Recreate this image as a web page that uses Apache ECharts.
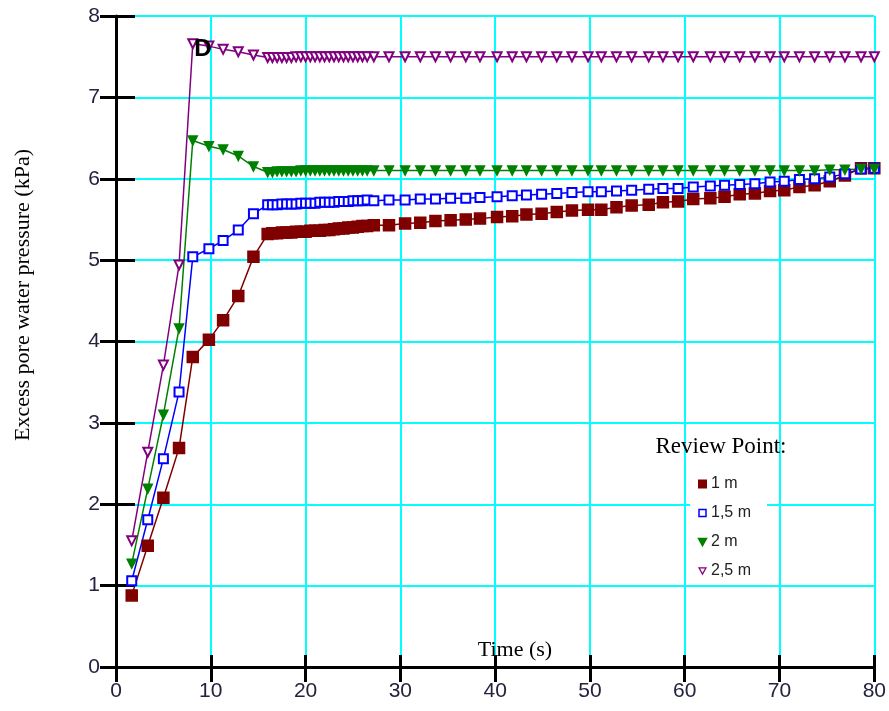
<!DOCTYPE html>
<html>
<head>
<meta charset="utf-8">
<script src="https://cdn.jsdelivr.net/npm/echarts@6/dist/echarts.min.js"></script>
<style>
  html, body { margin: 0; padding: 0; background: #fff; }
  #chart { width: 889px; height: 711px; }
</style>
</head>
<body>
<div id="chart"></div>
<script>
// time (s), shared by all review points
var times = [1.66, 3.35, 5.0, 6.65, 8.1, 9.8, 11.3, 12.9, 14.5, 16.0,
  16.5, 17.0, 17.5, 18.0, 18.5, 19.0, 19.5, 20.0, 20.5, 21.0, 21.5, 22.0, 22.5, 23.0, 23.5, 24.0, 24.5, 25.0, 25.5, 26.0, 26.5,
  27.2, 28.8, 30.5, 32.1, 33.7, 35.3, 36.9, 38.4, 40.2, 41.8, 43.3, 44.9, 46.5, 48.1, 49.8,
  51.2, 52.8, 54.4, 56.2, 57.7, 59.3, 60.9, 62.7, 64.2, 65.8, 67.4, 69.0, 70.5, 72.1, 73.7, 75.3, 76.9, 78.6, 80.0]

// excess pore water pressure (kPa)
var p1m = [0.88, 1.49, 2.08, 2.69, 3.81, 4.02, 4.26, 4.56, 5.04, 5.32,
  5.33, 5.33, 5.34, 5.34, 5.34, 5.35, 5.35, 5.35, 5.36, 5.36, 5.36, 5.37, 5.37, 5.38, 5.39, 5.39, 5.40, 5.40, 5.41, 5.42, 5.42,
  5.43, 5.43, 5.45, 5.46, 5.48, 5.49, 5.50, 5.51, 5.53, 5.54, 5.56, 5.57, 5.59, 5.61, 5.62,
  5.62, 5.65, 5.67, 5.68, 5.71, 5.72, 5.75, 5.76, 5.78, 5.81, 5.82, 5.85, 5.86, 5.90, 5.92, 5.97, 6.04, 6.13, 6.13]
var p15m = [1.06, 1.81, 2.56, 3.38, 5.04, 5.14, 5.24, 5.37, 5.57, 5.68,
  5.68, 5.68, 5.69, 5.69, 5.69, 5.69, 5.70, 5.70, 5.70, 5.70, 5.71, 5.71, 5.71, 5.71, 5.72, 5.72, 5.72, 5.73, 5.73, 5.73, 5.74,
  5.73, 5.74, 5.74, 5.75, 5.75, 5.76, 5.76, 5.77, 5.78, 5.79, 5.80, 5.81, 5.82, 5.83, 5.84,
  5.84, 5.85, 5.86, 5.87, 5.88, 5.88, 5.90, 5.91, 5.92, 5.93, 5.94, 5.96, 5.97, 5.99, 6.00, 6.02, 6.06, 6.12, 6.13]
var p2m = [1.27, 2.19, 3.10, 4.16, 6.47, 6.40, 6.36, 6.28, 6.15, 6.08,
  6.08, 6.09, 6.09, 6.09, 6.09, 6.09, 6.10, 6.10, 6.10, 6.10, 6.10, 6.10, 6.10, 6.10, 6.10, 6.10, 6.10, 6.10, 6.10, 6.10, 6.10,
  6.10, 6.10, 6.10, 6.10, 6.10, 6.10, 6.10, 6.10, 6.10, 6.10, 6.10, 6.10, 6.10, 6.10, 6.10,
  6.10, 6.10, 6.10, 6.10, 6.10, 6.10, 6.10, 6.10, 6.10, 6.10, 6.10, 6.10, 6.10, 6.10, 6.10, 6.11, 6.11, 6.12, 6.12]
var p25m = [1.55, 2.64, 3.71, 4.94, 7.66, 7.63, 7.59, 7.56, 7.52, 7.49,
  7.49, 7.49, 7.49, 7.49, 7.49, 7.50, 7.50, 7.50, 7.50, 7.50, 7.50, 7.50, 7.50, 7.50, 7.50, 7.50, 7.50, 7.50, 7.50, 7.50, 7.50,
  7.50, 7.50, 7.50, 7.50, 7.50, 7.50, 7.50, 7.50, 7.50, 7.50, 7.50, 7.50, 7.50, 7.50, 7.50,
  7.50, 7.50, 7.50, 7.50, 7.50, 7.50, 7.50, 7.50, 7.50, 7.50, 7.50, 7.50, 7.50, 7.50, 7.50, 7.50, 7.50, 7.50, 7.50]

var seriesNames = ['1 m', '1,5 m', '2 m', '2,5 m']
var xTicks = { min: 0, max: 80, interval: 10 }
var yTicks = { min: 0, max: 8, interval: 1 }

var labelFont = 'Liberation Sans, Arial, sans-serif'
var serifFont = 'Liberation Serif, Times New Roman, serif'
var downTri = 'path://M0,0L10,0L5,9Z'

function pairs(vals) {
  return times.map(function(t, i) { return [t, vals[i]] })
}

function makeLine(name, vals, color, symbol, size, rotate) {
  return {
    name: name,
    type: 'line',
    data: pairs(vals),
    symbol: symbol,
    symbolSize: size,
    symbolRotate: rotate || 0,
    showAllSymbol: true,
    lineStyle: { color: color, width: 1.5 },
    itemStyle: { color: color, borderColor: color, borderWidth: 1.5 },
    emphasis: { disabled: true },
    animation: false
  }
}

var chart = echarts.init(document.getElementById('chart'))

var option = {
  backgroundColor: '#fff',
  animation: false,
  grid: { left: 116, right: 13, top: 16, bottom: 44 },
  xAxis: [{
    type: 'value',
    min: xTicks.min,
    max: xTicks.max,
    interval: xTicks.interval,
    position: 'bottom',
    axisLine: { show: true, onZero: false, lineStyle: { color: '#000', width: 3 } },
    axisTick: { show: true, length: 15, lineStyle: { color: '#000', width: 3 } },
    axisLabel: { margin: 14, fontFamily: labelFont, fontSize: 21, color: '#23233f' },
    splitLine: { show: true, lineStyle: { color: '#00ffff', width: 2 } }
  }, {
    // inner half of the crossing ticks
    type: 'value',
    min: xTicks.min,
    max: xTicks.max,
    interval: xTicks.interval,
    position: 'bottom',
    axisLine: { show: false },
    axisTick: { show: true, inside: true, length: 12, lineStyle: { color: '#000', width: 3 } },
    axisLabel: { show: false },
    splitLine: { show: false }
  }],
  yAxis: [{
    type: 'value',
    min: yTicks.min,
    max: yTicks.max,
    interval: yTicks.interval,
    position: 'left',
    axisLine: { show: true, onZero: false, lineStyle: { color: '#000', width: 3 } },
    axisTick: { show: true, length: 16, lineStyle: { color: '#000', width: 3 } },
    axisLabel: { margin: 16, fontFamily: labelFont, fontSize: 21, color: '#23233f' },
    splitLine: { show: true, lineStyle: { color: '#00ffff', width: 2 } }
  }, {
    type: 'value',
    min: yTicks.min,
    max: yTicks.max,
    interval: yTicks.interval,
    position: 'left',
    axisLine: { show: false },
    axisTick: { show: true, inside: true, length: 19, lineStyle: { color: '#000', width: 3 } },
    axisLabel: { show: false },
    splitLine: { show: false }
  }],
  legend: {
    orient: 'vertical',
    left: 693,
    top: 471,
    itemWidth: 7,
    itemHeight: 7,
    itemGap: 13,
    selectedMode: false,
    textStyle: { fontFamily: labelFont, fontSize: 16, color: '#222' },
    data: [
      { name: seriesNames[0], icon: 'rect' },
      { name: seriesNames[1], icon: 'rect', itemStyle: { color: '#fff', borderColor: '#0000ff', borderWidth: 1.5 } },
      { name: seriesNames[2], icon: downTri },
      { name: seriesNames[3], icon: downTri, itemStyle: { color: '#fff', borderColor: '#800080', borderWidth: 1.2 } }
    ]
  },
  graphic: [
    { type: 'rect', z: 1, shape: { x: 690, y: 466, width: 77, height: 117 }, style: { fill: '#fff' } },
    { type: 'text', z: 5, x: 721, y: 447,
      style: { text: 'Review Point:', font: '23px ' + serifFont, fill: '#000', textAlign: 'center', textVerticalAlign: 'middle' } },
    { type: 'text', z: 5, x: 515, y: 650,
      style: { text: 'Time (s)', font: '22px ' + serifFont, fill: '#000', textAlign: 'center', textVerticalAlign: 'middle' } },
    { type: 'text', z: 5, x: 23, y: 295, rotation: Math.PI / 2,
      style: { text: 'Excess pore water pressure (kPa)', font: '22px ' + serifFont, fill: '#000', textAlign: 'center', textVerticalAlign: 'middle' } },
    { type: 'text', z: 6, x: 203, y: 49,
      style: { text: 'D', font: 'bold 24px ' + labelFont, fill: '#000', textAlign: 'center', textVerticalAlign: 'middle' } }
  ],
  series: [
    makeLine(seriesNames[0], p1m, '#800000', 'rect', 11),
    makeLine(seriesNames[1], p15m, '#0000ff', 'emptyRect', 9),
    makeLine(seriesNames[2], p2m, '#008000', 'triangle', 9, 180),
    makeLine(seriesNames[3], p25m, '#800080', 'emptyTriangle', 9, 180)
  ]
}

chart.setOption(option)
</script>
</body>
</html>
